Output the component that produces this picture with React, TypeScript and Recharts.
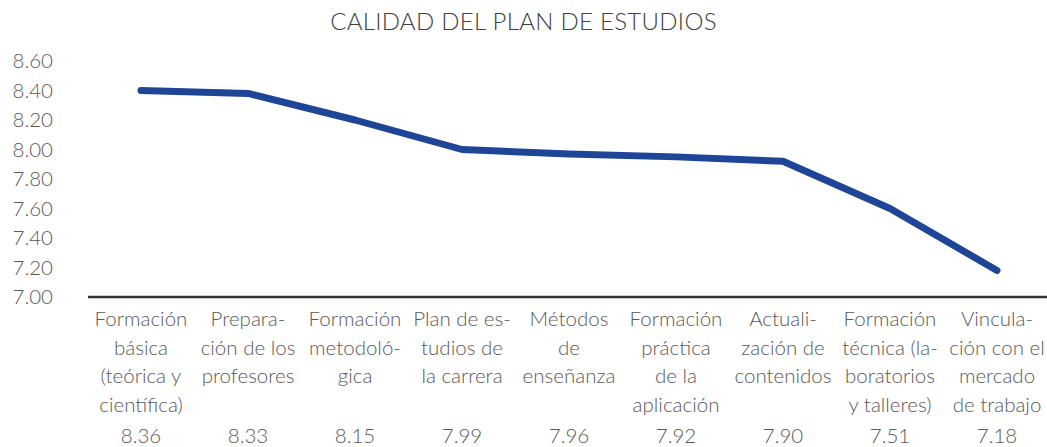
import { CartesianGrid, Line, LineChart, XAxis, YAxis } from "recharts";

const categories = [
  "Formación básica",
  "Preparación de los profesores",
  "Formación metodológica",
  "Plan de estudios de la carrera",
  "Métodos de enseñanza",
  "Formación práctica de la aplicación",
  "Actualización de contenidos",
  "Formación técnica",
  "Vinculación con el mercado de trabajo",
];

// wrapped label lines, as printed under the axis
const labelLines = [
  ["Formación", "básica", "(teórica y", "científica)"],
  ["Prepara-", "ción de los", "profesores"],
  ["Formación", "metodoló-", "gica"],
  ["Plan de es-", "tudios de", "la carrera"],
  ["Métodos", "de", "enseñanza"],
  ["Formación", "práctica", "de la", "aplicación"],
  ["Actuali-", "zación de", "contenidos"],
  ["Formación", "técnica (la-", "boratorios", "y talleres)"],
  ["Vincula-", "ción con el", "mercado", "de trabajo"],
];

// line positions as drawn in the picture
const lineValues = [8.4, 8.38, 8.2, 8.0, 7.97, 7.95, 7.92, 7.6, 7.18];

// values printed below each category
const printedValues = ["8.36", "8.33", "8.15", "7.99", "7.96", "7.92", "7.90", "7.51", "7.18"];

const yTicks = [7.0, 7.2, 7.4, 7.6, 7.8, 8.0, 8.2, 8.4, 8.6];

const data = categories.map((name, i) => ({ name, score: lineValues[i] }));

const FONT = "Lato, 'Open Sans', sans-serif";
const TEXT = "#595959";
const FS = 20.5;
const WEIGHT = 300;

function CategoryTick(props: any) {
  const { x, y, index } = props;
  const lines = labelLines[index] ?? [];
  return (
    <g>
      <text x={x} y={y} textAnchor="middle" fill={TEXT} fontFamily={FONT} fontSize={FS} fontWeight={WEIGHT}>
        {lines.map((line, i) => (
          <tspan key={i} x={x} dy={i === 0 ? 21 : 28.7}>
            {line}
          </tspan>
        ))}
      </text>
      <text x={x} y={y + 138} textAnchor="middle" fill={TEXT} fontFamily={FONT} fontSize={FS} fontWeight={WEIGHT}>
        {printedValues[index]}
      </text>
    </g>
  );
}

export default function App() {
  return (
    <div style={{ position: "absolute", left: 0, top: 0, width: 1047, height: 447, background: "#fff" }}>
      <div
        style={{
          position: "absolute",
          top: 6,
          left: 0,
          width: 1047,
          textAlign: "center",
          fontFamily: FONT,
          fontWeight: 300,
          fontSize: 24,
          color: "#404040",
          letterSpacing: 0.3,
        }}
      >
        CALIDAD DEL PLAN DE ESTUDIOS
      </div>
      <LineChart width={1047} height={447} data={data} margin={{ top: 61, right: 0, bottom: 0, left: 0 }}>
        <CartesianGrid horizontal={false} vertical={false} />
        <XAxis
          dataKey="name"
          interval={0}
          height={150}
          padding={{ left: 53, right: 50 }}
          tick={<CategoryTick />}
          tickLine={false}
          axisLine={{ stroke: "#333333", strokeWidth: 2.5 }}
        />
        <YAxis
          domain={[7, 8.6]}
          ticks={yTicks}
          width={88}
          tickSize={0}
          tickMargin={35}
          axisLine={false}
          tickLine={false}
          tickFormatter={(v) => Number(v).toFixed(2)}
          tick={{ fontSize: FS, fill: TEXT, fontFamily: FONT, fontWeight: WEIGHT }}
        />
        <Line
          type="linear"
          dataKey="score"
          stroke="#1e4598"
          strokeWidth={7}
          strokeLinecap="round"
          strokeLinejoin="round"
          dot={false}
          activeDot={false}
          isAnimationActive={false}
        />
      </LineChart>
    </div>
  );
}
